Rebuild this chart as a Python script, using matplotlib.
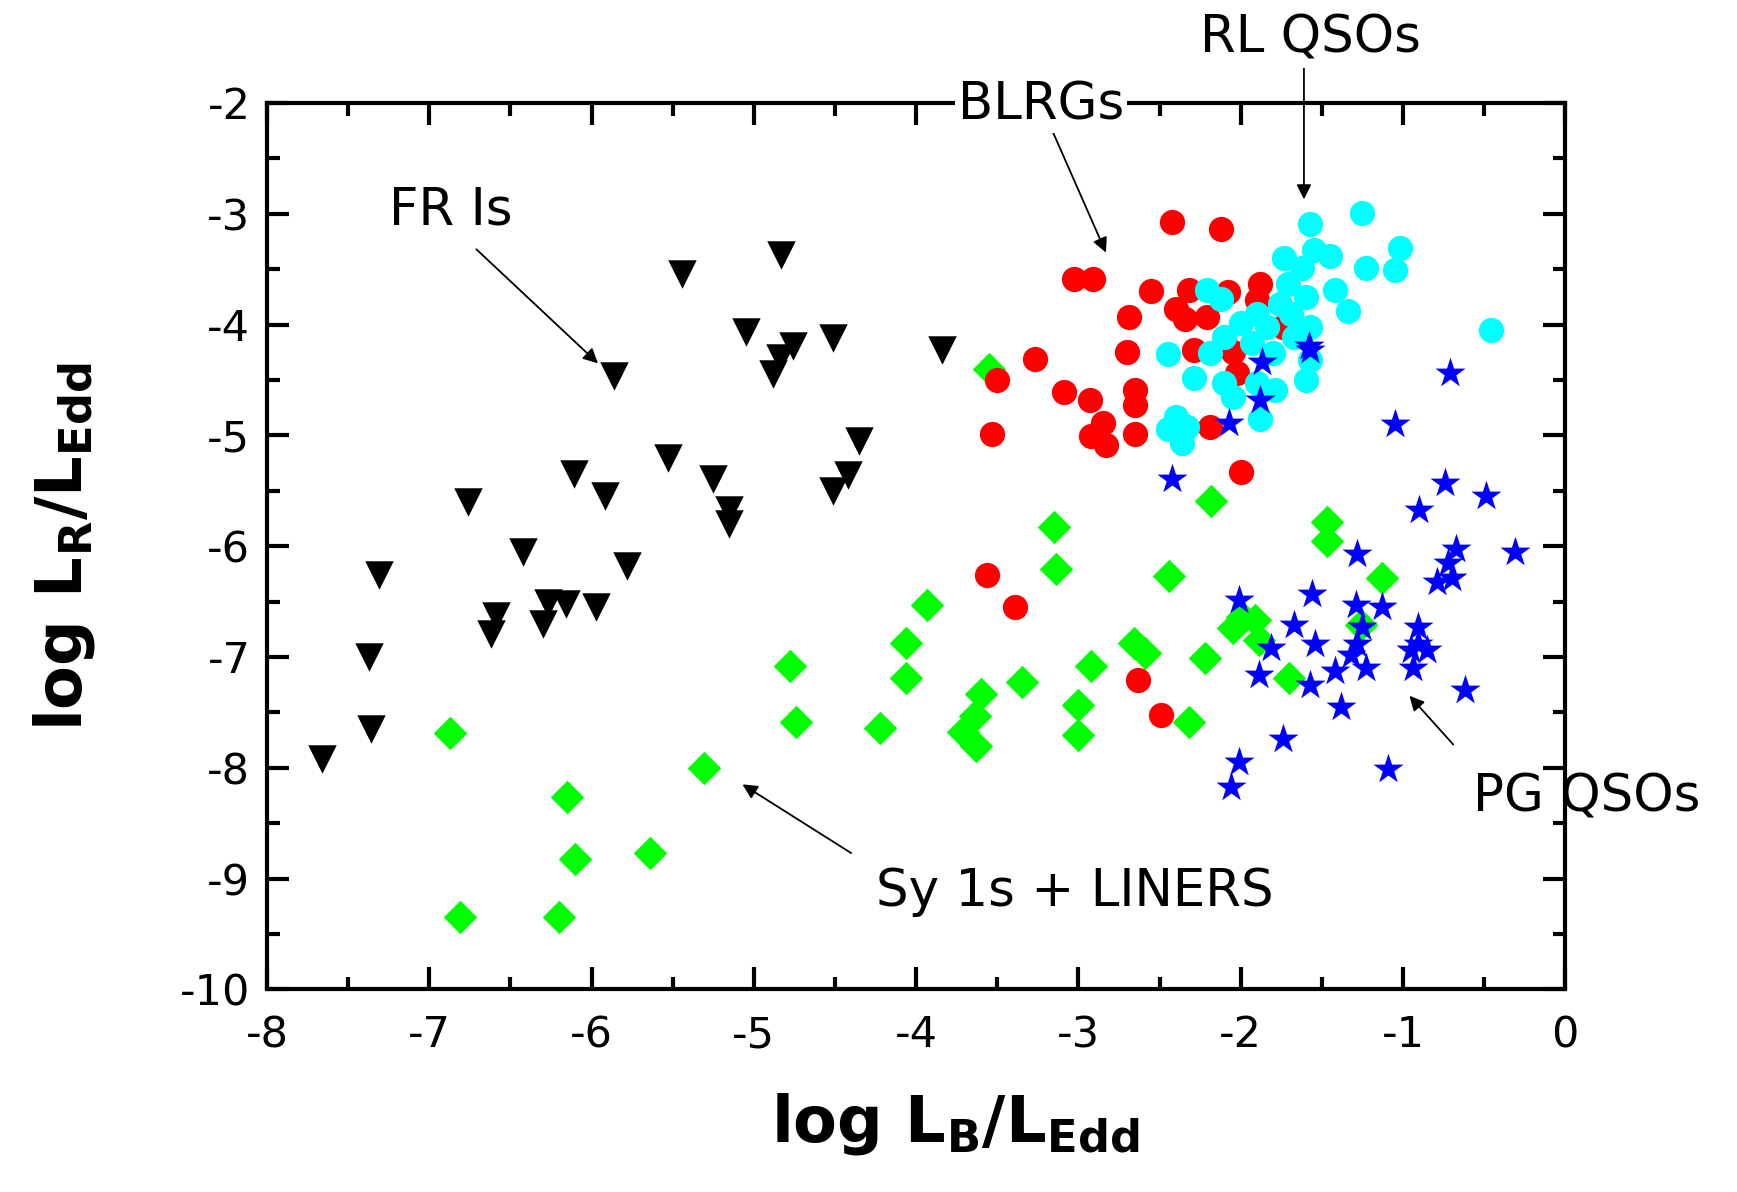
import matplotlib.pyplot as plt
from matplotlib.ticker import MultipleLocator

# FR Is (black down-triangles)
fr1_x = [-7.66, -7.37, -7.36, -7.31, -6.76, -6.59, -6.62, -6.42, -6.27, -6.30,
         -6.16, -6.11, -5.97, -5.92, -5.78, -5.86, -5.53, -5.44, -5.25, -5.15,
         -5.15, -5.05, -4.83, -4.88, -4.84, -4.76, -4.51, -4.51, -4.42, -4.35, -3.84]
fr1_y = [-7.92, -7.00, -7.65, -6.26, -5.60, -6.63, -6.79, -6.05, -6.51, -6.70,
         -6.52, -5.35, -6.55, -5.55, -6.18, -4.46, -5.20, -3.54, -5.39, -5.67,
         -5.80, -4.07, -3.37, -4.45, -4.30, -4.19, -4.12, -5.50, -5.36, -5.05, -4.23]

# Sy 1s + LINERS (green diamonds)
sy_x = [-6.87, -5.31, -6.15, -6.10, -5.64, -6.81, -6.20, -4.78, -4.74, -4.22,
        -4.06, -4.06, -3.93, -3.60, -3.64, -3.71, -3.63, -3.35, -3.15, -3.14,
        -3.00, -3.00, -2.92, -2.66, -2.59, -2.44, -2.32, -2.22, -2.18, -2.05,
        -1.99, -1.91, -1.89, -1.70, -1.47, -1.47, -1.26, -1.13, -3.55]
sy_y = [-7.69, -8.00, -8.26, -8.82, -8.77, -9.35, -9.35, -7.08, -7.59, -7.64,
        -6.87, -7.19, -6.53, -7.33, -7.53, -7.68, -7.80, -7.23, -5.83, -6.21,
        -7.43, -7.70, -7.08, -6.87, -6.96, -6.27, -7.59, -7.01, -5.59, -6.74,
        -6.64, -6.67, -6.85, -7.19, -5.78, -5.95, -6.71, -6.29, -4.40]

# BLRGs (red circles)
blrg_x = [-2.42, -2.12, -3.03, -2.91, -2.55, -2.69, -2.32, -2.40, -2.34, -2.21,
          -2.08, -1.88, -1.90, -1.74, -2.70, -2.29, -2.05, -3.27, -3.50, -3.09,
          -2.93, -2.65, -2.65, -2.02, -2.85, -2.92, -2.83, -2.65, -3.53, -2.19,
          -2.00, -3.56, -3.39, -2.63, -2.49]
blrg_y = [-3.07, -3.14, -3.59, -3.59, -3.70, -3.93, -3.69, -3.86, -3.95, -3.93,
          -3.71, -3.63, -3.78, -4.02, -4.25, -4.23, -4.25, -4.31, -4.50, -4.61,
          -4.68, -4.59, -4.73, -4.44, -4.89, -5.01, -5.09, -4.99, -4.99, -4.92,
          -5.33, -6.26, -6.55, -7.21, -7.52]

# RL QSOs (cyan circles)
rlq_x = [-1.57, -1.25, -1.02, -1.55, -1.45, -1.73, -1.62, -1.23, -1.05, -1.71,
         -1.60, -1.42, -1.34, -2.21, -2.12, -1.76, -1.90, -2.00, -1.84, -1.57,
         -1.67, -2.10, -0.46, -2.45, -2.19, -1.93, -1.80, -1.57, -1.60, -2.29,
         -2.10, -1.90, -1.79, -2.05, -2.40, -2.33, -2.45, -2.36, -1.88, -1.69]
rlq_y = [-3.09, -2.99, -3.31, -3.33, -3.38, -3.40, -3.49, -3.49, -3.51, -3.63,
         -3.75, -3.69, -3.88, -3.69, -3.77, -3.81, -3.90, -3.99, -4.02, -4.02,
         -4.11, -4.11, -4.05, -4.27, -4.26, -4.17, -4.26, -4.32, -4.50, -4.48,
         -4.53, -4.53, -4.59, -4.65, -4.83, -4.92, -4.94, -5.07, -4.85, -3.90]

# PG QSOs (blue stars)
pg_x = [-1.58, -1.57, -1.87, -1.88, -2.07, -2.42, -0.71, -1.05, -0.74, -0.49,
        -0.90, -1.28, -0.67, -0.31, -0.72, -0.70, -0.79, -2.01, -1.56, -1.29,
        -1.13, -1.67, -1.25, -1.54, -1.81, -1.28, -1.32, -0.91, -0.91, -0.85,
        -0.95, -0.94, -1.23, -1.42, -1.89, -1.57, -0.62, -1.38, -1.74, -2.01,
        -2.06, -1.09]
pg_y = [-4.19, -4.23, -4.34, -4.68, -4.89, -5.39, -4.44, -4.90, -5.43, -5.55,
        -5.67, -6.07, -6.03, -6.05, -6.15, -6.29, -6.32, -6.49, -6.43, -6.53,
        -6.55, -6.71, -6.73, -6.88, -6.92, -6.88, -6.98, -6.73, -6.88, -6.94,
        -6.94, -7.10, -7.10, -7.13, -7.16, -7.25, -7.30, -7.45, -7.74, -7.95,
        -8.17, -8.01]

plt.rcParams['font.family'] = ['DejaVu Sans']
plt.rcParams['axes.unicode_minus'] = False
plt.rcParams['mathtext.default'] = 'regular'

fig = plt.figure(figsize=(17.37, 11.92), dpi=100)
ax = fig.add_axes([0.1537, 0.170, 0.7474, 0.7436])

ax.scatter(fr1_x, fr1_y, marker='v', s=420, c='black', linewidths=0, zorder=3)
ax.scatter(sy_x, sy_y, marker='D', s=290, c='#00ff00', linewidths=0, zorder=3)
ax.scatter(blrg_x, blrg_y, marker='o', s=330, c='#ff0000', linewidths=0, zorder=4)
ax.scatter(rlq_x, rlq_y, marker='o', s=330, c='#00ffff', linewidths=0, zorder=5)
ax.scatter(pg_x, pg_y, marker='*', s=520, c='#0000ff', linewidths=0, zorder=6)

ax.set_xlim(-8, 0)
ax.set_ylim(-10, -2)
ax.xaxis.set_major_locator(MultipleLocator(1))
ax.xaxis.set_minor_locator(MultipleLocator(0.5))
ax.yaxis.set_major_locator(MultipleLocator(1))
ax.yaxis.set_minor_locator(MultipleLocator(0.5))
ax.tick_params(which='both', direction='in', top=True, right=True, width=3)
ax.tick_params(which='major', length=16, labelsize=31)
ax.tick_params(axis='x', which='major', pad=18)
ax.tick_params(axis='y', which='major', pad=12)
ax.tick_params(which='minor', length=9)
for sp in ax.spines.values():
    sp.set_linewidth(3)

ax.set_xlabel(r'log L$_{B}$/L$_{Edd}$', fontsize=46, fontweight='bold', labelpad=30)
ax.set_ylabel(r'log L$_{R}$/L$_{Edd}$', fontsize=46, fontweight='bold', labelpad=60)
ax.xaxis.set_label_coords(0.53, -0.115)

arrow = dict(arrowstyle='-|>', color='black', lw=1.3, mutation_scale=22, shrinkA=0, shrinkB=0)
tsize = 37

ax.text(-6.87, -2.97, 'FR Is', fontsize=tsize, ha='center', va='center', zorder=7)
ax.annotate('', xy=(-5.96, -4.35), xytext=(-6.71, -3.32), arrowprops=arrow, zorder=7)

ax.annotate('BLRGs', xy=(-2.83, -3.35), xytext=(-3.23, -2.02), arrowprops=arrow,
            fontsize=tsize, ha='center', va='center', zorder=7,
            bbox=dict(boxstyle='square,pad=0.05', fc='white', ec='none'))

ax.text(-1.57, -1.42, 'RL QSOs', fontsize=tsize, ha='center', va='center',
        zorder=7, clip_on=False)
ax.annotate('', xy=(-1.61, -2.87), xytext=(-1.61, -1.69), arrowprops=arrow,
            zorder=7, annotation_clip=False)

ax.text(-3.02, -9.12, 'Sy 1s + LINERS', fontsize=tsize, ha='center', va='center', zorder=7)
ax.annotate('', xy=(-5.07, -8.15), xytext=(-4.40, -8.77), arrowprops=arrow, zorder=7)

ax.text(0.13, -8.27, 'PG QSOs', fontsize=tsize, ha='center', va='center',
        zorder=7, clip_on=False)
ax.annotate('', xy=(-0.96, -7.35), xytext=(-0.69, -7.79), arrowprops=arrow, zorder=7)

fig.savefig('out.png', dpi=100)
